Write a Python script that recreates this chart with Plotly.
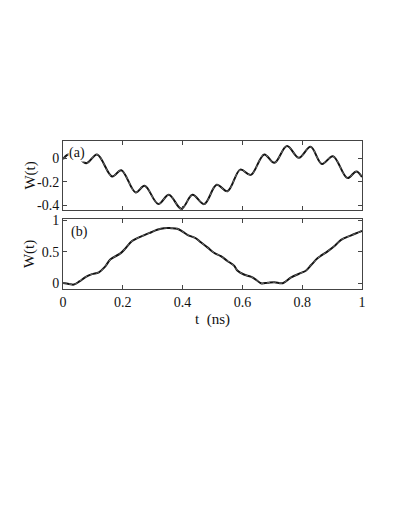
import plotly.graph_objects as go

# panel (a): W(t)
t_a = [0.0, 0.013, 0.035, 0.078, 0.114, 0.164, 0.195, 0.243, 0.273, 0.319, 0.354,
       0.396, 0.433, 0.472, 0.514, 0.55, 0.593, 0.628, 0.673, 0.707, 0.749, 0.789,
       0.828, 0.866, 0.903, 0.951, 0.981, 1.0]
w_a = [-0.005, 0.03, 0.045, -0.04, 0.035, -0.153, -0.10, -0.29, -0.233, -0.39, -0.31,
       -0.43, -0.31, -0.39, -0.225, -0.28, -0.095, -0.14, 0.035, -0.037, 0.107, 0.006,
       0.10, -0.046, 0.02, -0.167, -0.11, -0.158]

# panel (b): W(t)
t_b = [0.0, 0.02, 0.036, 0.055, 0.075, 0.097, 0.12, 0.14, 0.159, 0.192, 0.21, 0.231,
       0.27, 0.295, 0.315, 0.338, 0.36, 0.382, 0.40, 0.416, 0.444, 0.461, 0.483, 0.505,
       0.528, 0.55, 0.572, 0.584, 0.605, 0.628, 0.645, 0.662, 0.685, 0.707, 0.735,
       0.763, 0.796, 0.812, 0.83, 0.852, 0.886, 0.91, 0.93, 0.964, 1.0]
w_b = [0.005, -0.01, -0.02, 0.03, 0.10, 0.145, 0.175, 0.26, 0.38, 0.475, 0.56, 0.67,
       0.76, 0.81, 0.85, 0.875, 0.875, 0.865, 0.82, 0.77, 0.715, 0.65, 0.57, 0.485,
       0.43, 0.355, 0.28, 0.20, 0.14, 0.105, 0.06, 0.0, 0.01, 0.018, 0.002,
       0.094, 0.165, 0.2, 0.29, 0.40, 0.51, 0.6, 0.69, 0.76, 0.83]

x_ticks = [0, 0.2, 0.4, 0.6, 0.8, 1]
x_labels = ["0", "0.2", "0.4", "0.6", "0.8", "1"]
ya_ticks = [0, -0.2, -0.4]
yb_ticks = [0, 0.5, 1]

FONT = "Liberation Serif"
frame = "#444"

fig = go.Figure()
for t, w, ax in [(t_a, w_a, ("x", "y")), (t_b, w_b, ("x2", "y2"))]:
    # solid black curve with a lighter dashed curve on top
    fig.add_trace(go.Scatter(x=t, y=w, mode="lines", xaxis=ax[0], yaxis=ax[1],
                             line=dict(color="#111", width=2.0, shape="spline", smoothing=1.0)))
    fig.add_trace(go.Scatter(x=t, y=w, mode="lines", xaxis=ax[0], yaxis=ax[1],
                             line=dict(color="#888", width=0.8, dash="3px,3px",
                                       shape="spline", smoothing=1.0)))

axis_common = dict(showline=True, linecolor=frame, linewidth=1, mirror="ticks",
                   ticks="inside", ticklen=4, tickcolor=frame, showgrid=False,
                   zeroline=False, tickfont=dict(family=FONT, size=14, color="#111"))

dom_a = [0.534, 1]
dom_b = [0, 0.473]

fig.update_layout(
    width=409, height=529,
    margin=dict(l=55, r=55, t=133, b=248),
    paper_bgcolor="white", plot_bgcolor="white",
    showlegend=False,
    font=dict(family=FONT, size=13, color="#111"),
    xaxis=dict(domain=[0, 1], range=[0, 1], tickvals=x_ticks, showticklabels=False,
               anchor="y", **axis_common),
    yaxis=dict(domain=dom_a, range=[-0.44, 0.15], tickvals=ya_ticks,
               ticktext=["0", "-0.2", "-0.4"], anchor="x", **axis_common),
    xaxis2=dict(domain=[0, 1], range=[0, 1], tickvals=x_ticks, ticktext=x_labels,
                anchor="y2",
                title=dict(text="t\u00a0\u00a0(ns)", standoff=4,
                           font=dict(family=FONT, size=15)),
                **axis_common),
    yaxis2=dict(domain=dom_b, range=[-0.09, 1.02], tickvals=yb_ticks,
                ticktext=["0", "0.5", "1"], anchor="x2", **axis_common),
    annotations=[
        dict(text="(a)", x=0.018, y=0.05, xref="x", yref="y", xanchor="left",
             showarrow=False, bgcolor="white", borderpad=0,
             font=dict(family=FONT, size=14, color="#111")),
        dict(text="(b)", x=0.025, y=0.82, xref="x2", yref="y2", xanchor="left",
             showarrow=False, bgcolor="white", borderpad=0,
             font=dict(family=FONT, size=14, color="#111")),
        dict(text="W(t)", x=-0.11, y=sum(dom_a) / 2, xref="paper", yref="paper",
             xanchor="center", yanchor="middle", textangle=-90, showarrow=False,
             font=dict(family=FONT, size=15, color="#111")),
        dict(text="W(t)", x=-0.11, y=sum(dom_b) / 2, xref="paper", yref="paper",
             xanchor="center", yanchor="middle", textangle=-90, showarrow=False,
             font=dict(family=FONT, size=15, color="#111")),
    ],
)

fig.write_html("out.html")
